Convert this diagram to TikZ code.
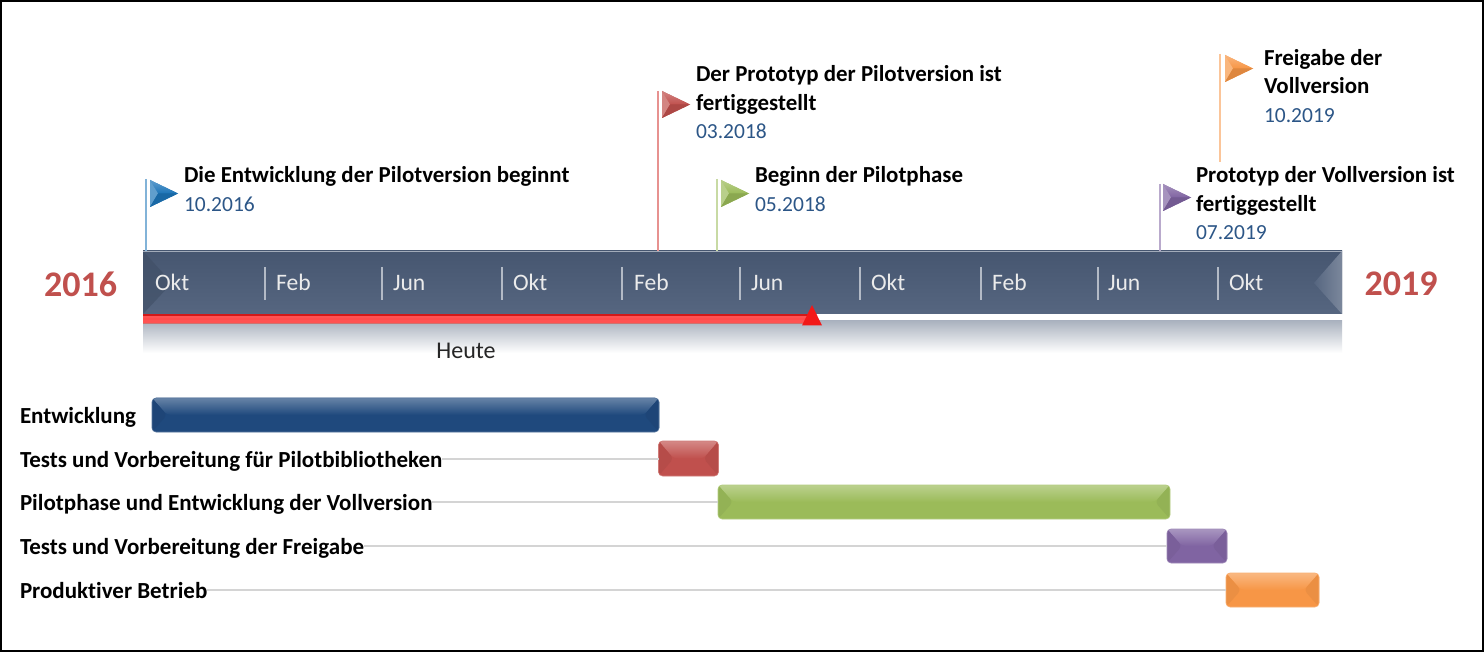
\documentclass[tikz,border=0pt]{standalone}
\usepackage{fontspec}
\setmainfont[Ligatures=NoCommon]{Carlito}
\usetikzlibrary{calc}
\definecolor{tblue}{HTML}{1F497D}
\definecolor{tred}{HTML}{C0504D}
\definecolor{tgreen}{HTML}{9BBB59}
\definecolor{tpurple}{HTML}{8064A2}
\definecolor{torange}{HTML}{F79646}
\definecolor{flagblue}{HTML}{1C74B8}
\definecolor{datecol}{HTML}{2C5687}
\definecolor{guide}{HTML}{D4D4D4}
\definecolor{axtop}{HTML}{465670}
\definecolor{axbot}{HTML}{566680}
\tikzset{
  x=1pt,y=-1pt,
  every node/.style={inner sep=0pt,outer sep=0pt},
  title/.style={anchor=north west,align=left,font=\fontsize{22.9}{28.5}\selectfont\bfseries,text=black},
  rowlabel/.style={anchor=west,font=\fontsize{23}{26}\selectfont\bfseries,text=black,text height=18pt,text depth=2pt},
  monthlabel/.style={anchor=west,font=\fontsize{23.6}{26}\selectfont,text=white!92!black,text height=15pt,text depth=0pt},
  tickmark/.style={draw=white!55!axbot,line width=1.4pt},
  yearlabel/.style={font=\fontsize{36}{40}\selectfont\bfseries,text=tred},
  guideline/.style={draw=guide,line width=1.8pt},
  taskbar/.style={rectangle,anchor=north west,rounded corners=4pt,draw=#1!75!white,line width=.6pt,fill=#1,
    path picture={
      \coordinate (nw) at (path picture bounding box.north west);
      \coordinate (ne) at (path picture bounding box.north east);
      \coordinate (sw) at (path picture bounding box.south west);
      \coordinate (se) at (path picture bounding box.south east);
      \coordinate (w) at (path picture bounding box.west);
      \coordinate (e) at (path picture bounding box.east);
      \shade[top color=#1!68!white,bottom color=#1] (nw) -- (ne) -- ($(e)+(-15,0)$) -- ($(w)+(15,0)$) -- cycle;
      \fill[#1!95!black] (nw) -- ($(w)+(15,0)$) -- (sw) -- cycle;
      \fill[#1!95!black] (ne) -- ($(e)+(-15,0)$) -- (se) -- cycle;
    }},
  flagpole/.style={line width=1.3pt,draw=#1!55!white},
}
\newcommand{\flagmark}[3]{% x y colour
  \fill[#3] (#1,#2) -- (#1+28,#2+13.5) -- (#1,#2+27) -- cycle;
  \shade[top color=#3!70!white,bottom color=#3] (#1,#2) -- (#1+28,#2+13.5) -- (#1+8,#2+13.5) -- cycle;
  \fill[#3!70!white] (#1,#2) -- (#1+8,#2+13.5) -- (#1,#2+27) -- cycle;
  \fill[#3!90!black] (#1,#2+27) -- (#1+28,#2+13.5) -- (#1+8,#2+13.5) -- cycle;
}
\newcommand{\datetext}[1]{\textcolor{datecol}{\fontsize{21.5}{28.5}\selectfont\mdseries #1}}
\begin{document}
\begin{tikzpicture}
\useasboundingbox (0,0) rectangle (1484,652);
\draw[black,line width=2pt,fill=white] (1,1) rectangle (1483,651);

% reflection under the time bar
\shade[top color=axbot!50!white,bottom color=white] (143,321) rectangle (1342,353);

% time bar
\node[rectangle,minimum width=1199pt,minimum height=63pt,anchor=north west,
  top color=axtop,bottom color=axbot] (axis) at (143,251) {};
\fill[axtop!90!black,opacity=.6] (143,251) -- (172,283) -- (143,314) -- cycle;
\shade[left color=axbot,right color=white!22!axbot] (1342,251) -- (1314,283) -- (1342,314) -- cycle;
\draw[white!45!axbot,line width=.8pt] (143,251) -- (1342,251);

% progress line
\node[rectangle,minimum width=669pt,minimum height=10pt,anchor=north west,fill=red!68!white] (progress) at (143,314) {};
\fill[red!80!black!90!white] (143,314) rectangle (812,316);
\fill[white!30!red] (143,318.5) rectangle (812,320.5);
\fill[tred!80!white] (143,323.5) rectangle (812,324.5);
\fill[red!90!white!95!black,draw=none] (812,305) -- (822,325.5) -- (802,325.5) -- cycle;
\node[font=\fontsize{24}{26}\selectfont,text=black!85] (today) at (466,351) {Heute};

% ticks and months
\foreach \tx in {265,382,502,622,740,860,981,1098,1218}
  \draw[tickmark] (\tx,267) -- (\tx,300);
\foreach \mx/\mt [count=\mi] in {155/Okt,276/Feb,393/Jun,513/Okt,634/Feb,751/Jun,871/Okt,992/Feb,1108/Jun,1229/Okt}
  \node[monthlabel] (month\mi) at (\mx,283) {\mt};

% years
\node[yearlabel] (ystart) at (80.5,284) {2016};
\node[yearlabel] (yend) at (1401,284) {2019};

% flags
\coordinate (p1) at (146,179);
\coordinate (p2) at (658,91);
\coordinate (p3) at (717,179);
\coordinate (p4) at (1160,184);
\coordinate (p5) at (1220,54);
\coordinate (p5b) at (1220,162);
\draw[flagpole=flagblue] (p1) -- (p1 |- axis.north);
\draw[flagpole=tred!70!red] (p2) -- (p2 |- axis.north);
\draw[flagpole=tgreen] (p3) -- (p3 |- axis.north);
\draw[flagpole=tpurple] (p4) -- (p4 |- axis.north);
\draw[flagpole=torange] (p5) -- (p5b);
\flagmark{150}{180}{flagblue}
\flagmark{662}{91}{tred}
\flagmark{721}{180}{tgreen}
\flagmark{1163}{184}{tpurple}
\flagmark{1225}{55}{torange}

% milestone texts
\node[title] (m1) at (184,166.5) {Die Entwicklung der Pilotversion beginnt\\\datetext{10.2016}};
\node[title] (m2) at (696,65.5) {Der Prototyp der Pilotversion ist\\fertiggestellt\\\datetext{03.2018}};
\node[title] (m3) at (755,166.5) {Beginn der Pilotphase\\\datetext{05.2018}};
\node[title] (m4) at (1196,166.5) {Prototyp der Vollversion ist\\fertiggestellt\\\datetext{07.2019}};
\node[title] (m5) at (1264,49) {Freigabe der\\Vollversion\\\datetext{10.2019}};

% task bars
\node[taskbar=tblue,minimum width=507pt,minimum height=34pt] (b1) at (152,398) {};
\node[taskbar=tred,minimum width=60pt,minimum height=35pt] (b2) at (658.5,441) {};
\node[taskbar=tgreen,minimum width=452pt,minimum height=34pt] (b3) at (718,485) {};
\node[taskbar=tpurple,minimum width=60pt,minimum height=34pt] (b4) at (1167,529) {};
\node[taskbar=torange,minimum width=93pt,minimum height=34pt] (b5) at (1226,573) {};

% row labels
\node[rowlabel] (l1) at (20,415) {Entwicklung};
\node[rowlabel] (l2) at (20,459) {Tests und Vorbereitung für Pilotbibliotheken};
\node[rowlabel] (l3) at (20,502) {Pilotphase und Entwicklung der Vollversion};
\node[rowlabel] (l4) at (20,546) {Tests und Vorbereitung der Freigabe};
\node[rowlabel] (l5) at (20,590) {Produktiver Betrieb};

% guide lines
\draw[guideline] (l2.east) -- (l2.east -| b2.west);
\draw[guideline] (l3.east) -- (b3.west);
\draw[guideline] (l4.east) -- (b4.west);
\draw[guideline] (l5.east) -- (b5.west);
\end{tikzpicture}
\end{document}
